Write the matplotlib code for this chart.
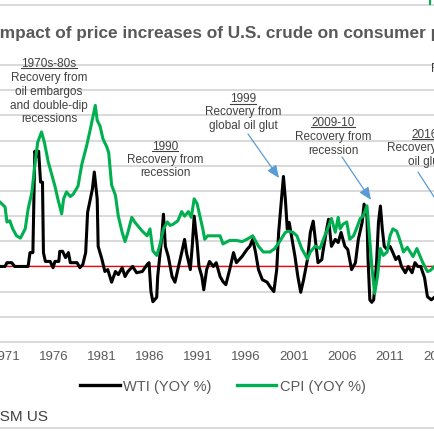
import matplotlib
matplotlib.use('Agg')
import matplotlib.pyplot as plt
from matplotlib.lines import Line2D
from matplotlib.patches import FancyArrowPatch

plt.rcParams['font.family'] = ['Liberation Sans', 'DejaVu Sans']

# ---------------- data ----------------
wti_year = [1970.4, 1970.9, 1971.1, 1971.6, 1971.9, 1973.3, 1973.5, 1973.8, 1974.0, 1974.2,
            1974.4, 1974.6, 1974.8, 1974.9, 1975.1, 1975.6, 1975.9, 1976.1, 1976.5, 1976.6,
            1976.9, 1977.2, 1977.5, 1977.7, 1978.4, 1978.7, 1979.0, 1979.3, 1979.5, 1980.0,
            1980.2, 1980.5, 1980.6, 1981.0, 1981.3, 1981.6, 1982.0, 1982.4, 1982.7, 1983.1,
            1983.4, 1983.7, 1984.2, 1984.6, 1985.2, 1985.7, 1985.9, 1986.1, 1986.3, 1986.7,
            1986.8, 1987.2, 1987.4, 1987.6, 1987.9, 1988.3, 1988.6, 1988.9, 1989.3, 1989.6,
            1989.8, 1990.2, 1990.4, 1990.6, 1990.9, 1991.1, 1991.4, 1991.6, 1991.9, 1992.2,
            1992.6, 1992.9, 1993.3, 1993.6, 1993.9, 1994.3, 1994.7, 1995.0, 1995.6, 1996.1,
            1996.4, 1996.7, 1997.0, 1997.3, 1997.7, 1998.2, 1998.5, 1998.9, 1999.2, 1999.4,
            1999.7, 1999.9, 2000.1, 2000.3, 2000.5, 2000.8, 2001.1, 2001.4, 2001.7, 2002.0,
            2002.4, 2002.7, 2003.0, 2003.3, 2003.5, 2003.9, 2004.0, 2004.4, 2004.6, 2004.9,
            2005.3, 2005.6, 2005.9, 2006.3, 2006.6, 2007.0, 2007.4, 2007.7, 2008.1, 2008.3,
            2008.6, 2008.7, 2008.9, 2009.1, 2009.3, 2009.6, 2009.8, 2010.0, 2010.2, 2010.4,
            2010.7, 2011.0, 2011.3, 2011.6, 2011.9, 2012.2, 2012.6, 2012.9, 2013.3, 2013.6,
            2013.9, 2014.2, 2014.6, 2014.9, 2015.3, 2015.7]
wti_yoy = [0, 0, 6, 6, 0, 0, 22, 22, 183, 175,
           183, 134, 134, 22, 8, 8, -2, 8, 8, 24,
           24, 14, 22, 6, 6, -2, 3, 22, 86, 123,
           150, 107, 32, 11, -8, -5, -25, -8, -13, -2,
           -16, -8, 0, -10, -8, 3, 6, -40, -56, -49,
           -16, 43, 83, 32, 16, -16, -25, -5, 22, 43,
           22, -5, 32, 80, 38, 0, -16, -37, -5, 8,
           0, 6, -16, -24, -29, -5, 22, 6, 16, 27,
           32, 43, 22, -5, -21, -25, -32, -40, -5, 54,
           107, 143, 107, 59, 70, 43, 16, -16, -41, -21,
           11, 54, 72, 32, 6, 11, 22, 59, 75, 32,
           43, 38, 54, 32, 27, -5, 6, 43, 70, 99,
           80, 16, -53, -57, -53, 6, 70, 96, 59, 32,
           27, 32, 22, 11, 16, 0, -10, 0, -10, 6,
           0, 0, -18, -48, -53, -48]

cpi_year = [1970.4, 1970.9, 1971.1, 1971.4, 1971.7, 1972.1, 1972.5, 1973.0, 1973.3, 1973.7,
            1974.0, 1974.3, 1974.7, 1975.0, 1975.4, 1975.8, 1976.1, 1976.4, 1976.8, 1977.0,
            1977.3, 1977.7, 1978.0, 1978.5, 1978.9, 1979.4, 1979.8, 1980.3, 1980.5, 1980.8,
            1981.1, 1981.5, 1981.7, 1982.0, 1982.4, 1982.7, 1983.1, 1983.4, 1983.7, 1984.1,
            1984.4, 1984.8, 1985.2, 1985.7, 1986.0, 1986.3, 1986.7, 1987.0, 1987.4, 1987.8,
            1988.1, 1988.4, 1988.9, 1989.3, 1989.6, 1990.0, 1990.3, 1990.6, 1990.9, 1991.2,
            1991.5, 1991.7, 1992.0, 1992.8, 1993.3, 1993.6, 1994.3, 1995.0, 1995.6, 1996.1,
            1996.7, 1997.3, 1997.8, 1998.5, 1999.0, 1999.5, 2000.1, 2000.4, 2000.9, 2001.3,
            2001.8, 2002.4, 2002.7, 2003.2, 2003.7, 2004.2, 2004.5, 2004.9, 2005.3, 2005.6,
            2005.8, 2006.1, 2006.5, 2006.8, 2007.2, 2007.5, 2007.9, 2008.2, 2008.6, 2008.8,
            2009.1, 2009.4, 2009.7, 2010.0, 2010.3, 2010.7, 2011.0, 2011.3, 2011.7, 2012.0,
            2012.4, 2012.8, 2013.1, 2013.4, 2013.8, 2014.1, 2014.4, 2014.9, 2015.2, 2015.7]
cpi_yoy = [6.1, 5.7, 4.4, 4.5, 3.8, 3.2, 3.0, 3.8, 5.5, 7.0,
           9.3, 11.3, 12.2, 11.3, 9.6, 8.4, 7.5, 6.4, 5.1, 6.4,
           7.0, 6.6, 6.8, 7.5, 9.4, 11.0, 12.5, 14.5, 13.2, 12.7,
           11.6, 10.9, 10.4, 7.6, 6.7, 4.9, 3.5, 2.7, 3.5, 4.8,
           4.4, 4.0, 3.6, 3.2, 3.8, 1.9, 1.5, 2.3, 3.8, 4.4,
           4.1, 4.2, 4.5, 5.3, 4.9, 5.3, 4.8, 6.4, 6.0, 4.9,
           3.8, 2.9, 3.2, 3.2, 3.2, 2.5, 2.8, 2.8, 2.7, 2.9,
           3.2, 2.3, 1.8, 1.8, 2.1, 2.7, 3.5, 3.6, 3.5, 3.2,
           2.1, 1.2, 1.8, 2.3, 2.1, 3.2, 3.8, 4.7, 3.5, 4.8,
           3.8, 4.2, 4.4, 2.9, 3.2, 3.8, 4.7, 4.9, 5.8, 3.8,
           0.6, -1.8, -0.3, 2.1, 1.5, 1.8, 3.2, 3.8, 3.6, 2.9,
           1.8, 2.2, 1.8, 1.4, 2.1, 1.5, 0.9, 0.1, 0.2, 0.6]

tick_years = [1971, 1976, 1981, 1986, 1991, 1996, 2001, 2006, 2011, 2016]
tick_labels = ['1971', '1976', '1981', '1986', '1991', '1996', '2001', '2006', '2011', '2016']
series_names = ['WTI (YOY %)', 'CPI (YOY %)']

# ---------------- layout ----------------
W = H = 435
fig = plt.figure(figsize=(4.35, 4.35), dpi=100)


def fx(x):
    return x / W


def fy(y):
    return 1 - y / H


GREEN = '#00b050'
GRID = '#d9d9d9'
TXT = '#595959'
ANN = '#404040'
BLUE = '#5b9bd5'

x0, x1 = 1969.5, 2022.5
ppy = 9.6
left_px = 6 + (x0 - 1971) * ppy
right_px = 6 + (x1 - 1971) * ppy
top_px, bot_px = 66, 343
ax = fig.add_axes([fx(left_px), fy(bot_px), (right_px - left_px) / W, (bot_px - top_px) / H])
ax.set_xlim(x0, x1)
ax.set_ylim(-120, 320)
for v in range(-120, 321, 40):
    ax.axhline(v, color=GRID, lw=1.4, clip_on=False, zorder=0)
ax.axhline(0, color='#ff0000', lw=0.9, zorder=1)
ax.plot(wti_year, wti_yoy, color='black', lw=2.2, zorder=2, solid_joinstyle='round')

ax2 = ax.twinx()
ax2.set_ylim(-6, 18)
ax2.plot(cpi_year, cpi_yoy, color=GREEN, lw=2.2, zorder=3, solid_joinstyle='round')

for a in (ax, ax2):
    for s in a.spines.values():
        s.set_visible(False)
    a.set_yticks([])
ax.set_xticks(tick_years)
ax.set_xticklabels(tick_labels)
ax.tick_params(axis='x', length=0, pad=6, labelsize=9.5, labelcolor=TXT)

# legend
handles = [Line2D([], [], color='black', lw=2.4), Line2D([], [], color=GREEN, lw=2.4)]
fig.legend(handles=handles, labels=series_names, loc='center',
           bbox_to_anchor=(fx(223), fy(387)), ncol=2, frameon=False, fontsize=10.5,
           labelcolor=TXT, handlelength=2.7, handletextpad=0.25, columnspacing=1.7,
           borderpad=0, borderaxespad=0)

# title and source
fig.text(fx(-4.8), fy(38), 'Impact of price increases of U.S. crude on consumer prices',
         fontsize=12.4, fontweight='bold', color=TXT, ha='left', va='baseline')
fig.text(fx(48), fy(421.5), 'Source: RSM US', fontsize=11, color=ANN, ha='right', va='baseline')

# decorative frame lines
fig.add_artist(Line2D([0, 1], [fy(6), fy(6)], transform=fig.transFigure, color=GRID, lw=1.4))
fig.add_artist(Line2D([0, 1], [fy(429), fy(429)], transform=fig.transFigure, color=GRID, lw=1.4))
fig.add_artist(Line2D([fx(430), fx(430)], [fy(0), fy(5)], transform=fig.transFigure, color=GREEN, lw=1.5))

# annotations
ann = [
    ('1970s-80s', 49, 67, True), ('Recovery from', 49, 81.5, False), ('oil embargos', 49, 95, False),
    ('and double-dip', 49, 108.5, False), ('recessions', 49, 121.5, False),
    ('1990', 165, 149.5, True), ('Recovery from', 165, 162.5, False), ('recession', 165, 176, False),
    ('1999', 243, 102.5, True), ('Recovery from', 243, 115.5, False), ('global oil glut', 243, 129, False),
    ('2009-10', 333, 126, True), ('Recovery from', 333, 140, False), ('recession', 333, 153.5, False),
    ('2016', 425, 137.5, True), ('Recovery from', 425, 151.5, False), ('oil glut', 425, 165, False),
    ('Recovery from', 469, 72, False),
]
underlined = []
for s, cx, by, ul in ann:
    t = fig.text(fx(cx), fy(by), s, fontsize=8.5, color=ANN, ha='center', va='baseline')
    if ul:
        underlined.append((t, by))

fig.canvas.draw()
r = fig.canvas.get_renderer()
for t, by in underlined:
    bb = t.get_window_extent(r)
    fig.add_artist(Line2D([bb.x0 / W, bb.x1 / W], [fy(by + 2), fy(by + 2)],
                          transform=fig.transFigure, color=ANN, lw=0.8))

arrows = [((248, 135), (279, 179)), ((342, 158), (371, 201)), ((418, 173), (447, 218))]
for (tx, ty), (hx, hy) in arrows:
    fig.add_artist(FancyArrowPatch(
        (fx(tx), fy(ty)), (fx(hx), fy(hy)), transform=fig.transFigure,
        arrowstyle='-|>,head_length=0.75,head_width=0.32', mutation_scale=10,
        color=BLUE, lw=0.9, shrinkA=0, shrinkB=0))

fig.savefig('out.png', dpi=100)
